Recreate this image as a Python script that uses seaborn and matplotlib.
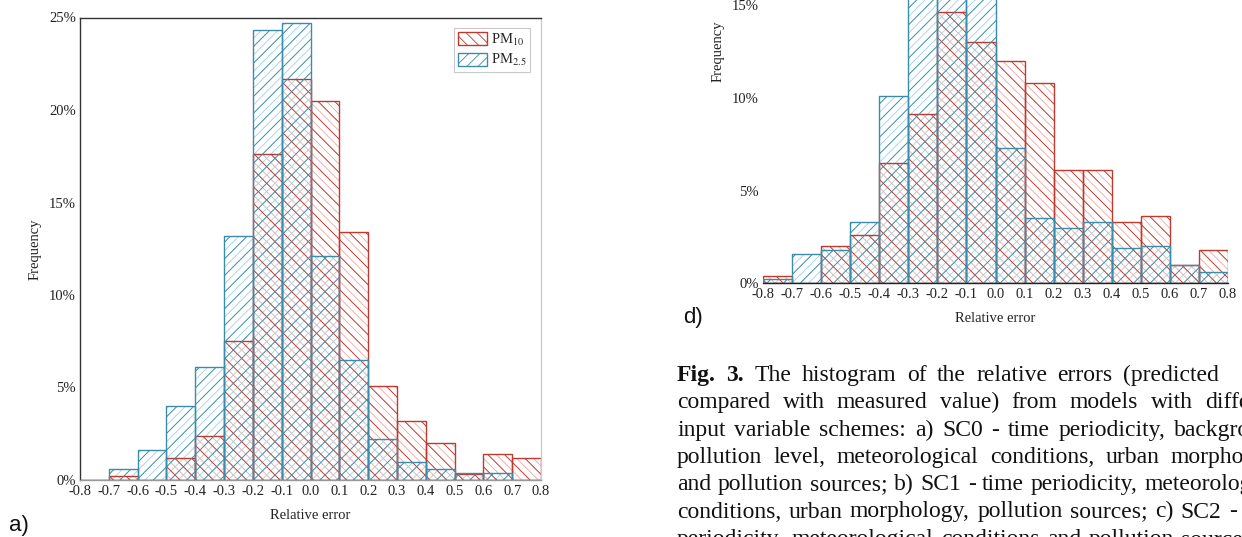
import numpy as np
import seaborn as sns
import matplotlib.pyplot as plt
from matplotlib.patches import Patch

# histogram bins of the relative error
edges = [-0.8, -0.7, -0.6, -0.5, -0.4, -0.3, -0.2, -0.1, 0.0,
         0.1, 0.2, 0.3, 0.4, 0.5, 0.6, 0.7, 0.8]
xtick_labels = ["-0.8", "-0.7", "-0.6", "-0.5", "-0.4", "-0.3", "-0.2", "-0.1", "0.0",
                "0.1", "0.2", "0.3", "0.4", "0.5", "0.6", "0.7", "0.8"]
yticks = [0, 5, 10, 15, 20, 25]
ytick_labels = ["0%", "5%", "10%", "15%", "20%", "25%"]

# frequency (%) per bin, panel a) SC0
a_pm10 = [0, 0.2, 0, 1.2, 2.4, 7.5, 17.6, 21.7, 20.5, 13.4, 5.1, 3.2, 2.0, 0.3, 1.4, 1.2]
a_pm25 = [0, 0.6, 1.6, 4.0, 6.1, 13.2, 24.3, 24.7, 12.1, 6.5, 2.2, 1.0, 0.6, 0.4, 0.4, 0]
# panel d) SC3
d_pm10 = [0.4, 0, 2.0, 2.6, 6.5, 9.1, 14.6, 13.0, 12.0, 10.8, 6.1, 6.1, 3.3, 3.6, 1.0, 1.8]
d_pm25 = [0.25, 1.6, 1.8, 3.3, 10.1, 17.5, 23.0, 19.8, 7.3, 3.5, 3.0, 3.3, 1.9, 2.0, 1.0, 0.6]

# caption lines of the page (justified, cut by the scan border)
caption = [
    "Fig. 3. The histogram of the relative errors (predicted",
    "compared with measured value) from models with different",
    "input variable schemes: a) SC0 - time periodicity, background",
    "pollution level, meteorological conditions, urban morphology",
    "and pollution sources; b) SC1 - time periodicity, meteorological",
    "conditions, urban morphology, pollution sources; c) SC2 - time",
    "periodicity, meteorological conditions and pollution sources; d)",
]

RED, RED_PALE = "#c0392f", "#eba8a2"
BLUE, BLUE_PALE = "#3b8cab", "#9ad4e6"

sns.set_theme(style="white")
plt.rcParams["font.family"] = ["Liberation Serif", "DejaVu Serif"]
plt.rcParams["mathtext.fontset"] = "stix"
plt.rcParams["hatch.linewidth"] = 0.6

centers = [(lo + hi) / 2 for lo, hi in zip(edges[:-1], edges[1:])]

W, H = 1242, 537
fig = plt.figure(figsize=(W / 100, H / 100), dpi=100)
ax_a = fig.add_axes([80 / W, 57 / H, 461 / W, 462.5 / H])
ax_d = fig.add_axes([763 / W, 253.7 / H, 465 / W, 464 / H])


def draw_hist(ax, pm10, pm25):
    # pale dense hatch underneath, darker sparse hatch + outline on top
    sns.histplot(x=centers, weights=pm10, bins=edges, fill=False, color=RED_PALE,
                 hatch="\\\\\\\\", linewidth=0.5, ax=ax)
    sns.histplot(x=centers, weights=pm25, bins=edges, fill=False, color=BLUE_PALE,
                 hatch="////", linewidth=0.5, ax=ax)
    sns.histplot(x=centers, weights=pm10, bins=edges, fill=False, color=RED,
                 hatch="\\\\", linewidth=1.0, ax=ax)
    sns.histplot(x=centers, weights=pm25, bins=edges, fill=False, color=BLUE,
                 hatch="//", linewidth=1.0, ax=ax)
    ax.set_xlim(-0.8, 0.8)
    ax.set_ylim(0, 25)
    ax.set_xticks(edges)
    ax.set_xticklabels(xtick_labels)
    ax.set_yticks(yticks)
    ax.set_yticklabels(ytick_labels)
    ax.tick_params(labelsize=10.5, length=0, colors="#222222")
    ax.tick_params(axis="x", pad=3.5)
    ax.tick_params(axis="y", pad=3)
    ax.set_xlabel("Relative error", fontsize=10.5, labelpad=8, color="#222222")
    ax.set_ylabel("Frequency", fontsize=10.5, labelpad=5, color="#222222")


draw_hist(ax_a, a_pm10, a_pm25)
draw_hist(ax_d, d_pm10, d_pm25)

for side, col in [("left", "#333333"), ("top", "#333333"), ("right", "#cccccc"), ("bottom", "#999999")]:
    ax_a.spines[side].set_color(col)
    ax_a.spines[side].set_linewidth(1.0)
for side in ["left", "top", "right"]:
    ax_d.spines[side].set_visible(False)
ax_d.spines["bottom"].set_color("#222222")
ax_d.spines["bottom"].set_linewidth(1.0)

handles = [Patch(facecolor="white", edgecolor=RED, hatch="\\\\\\", linewidth=1.0),
           Patch(facecolor="white", edgecolor=BLUE, hatch="///", linewidth=1.0)]
leg = ax_a.legend(handles, ["PM$_{10}$", "PM$_{2.5}$"], loc="upper right",
                  bbox_to_anchor=(0.98, 0.98), fontsize=10.5, frameon=True, fancybox=False,
                  handlelength=2.0, handleheight=1.0, handletextpad=0.3,
                  labelspacing=0.3, borderpad=0.25, borderaxespad=0.1)
leg.get_frame().set_edgecolor("#bbbbbb")
leg.get_frame().set_linewidth(0.8)

# panel letters
fig.text(19 / W, 1 - 525 / H, "a)", family="Liberation Sans", fontsize=16,
         ha="center", va="center", color="#111111")
fig.text(693 / W, 1 - 317 / H, "d)", family="Liberation Sans", fontsize=16,
         ha="center", va="center", color="#111111")

# justified caption: first line ends at 1219 px, the others run past the border
renderer = fig.canvas.get_renderer()
x_start = 677
line_end = [1219, 1286, 1286, 1286, 1286, 1286, 1286]
line_base = [381, 408.3, 435.6, 462.9, 490.2, 517.5, 544.8]
for i, (txt, x_end, yb) in enumerate(zip(caption, line_end, line_base)):
    words = txt.split(" ")
    items = []
    for j, w in enumerate(words):
        weight = "bold" if (i == 0 and j < 2) else "normal"
        t = fig.text(0, 1 - yb / H, w, fontsize=17, fontweight=weight,
                     ha="left", va="baseline", color="#111111")
        items.append((t, t.get_window_extent(renderer).width))
    gap = (x_end - x_start - sum(wd for _, wd in items)) / (len(items) - 1)
    gap = max(gap, 5.5)
    x = x_start
    for t, wd in items:
        t.set_x(x / W)
        x += wd + gap

fig.savefig("out.png", dpi=100)
